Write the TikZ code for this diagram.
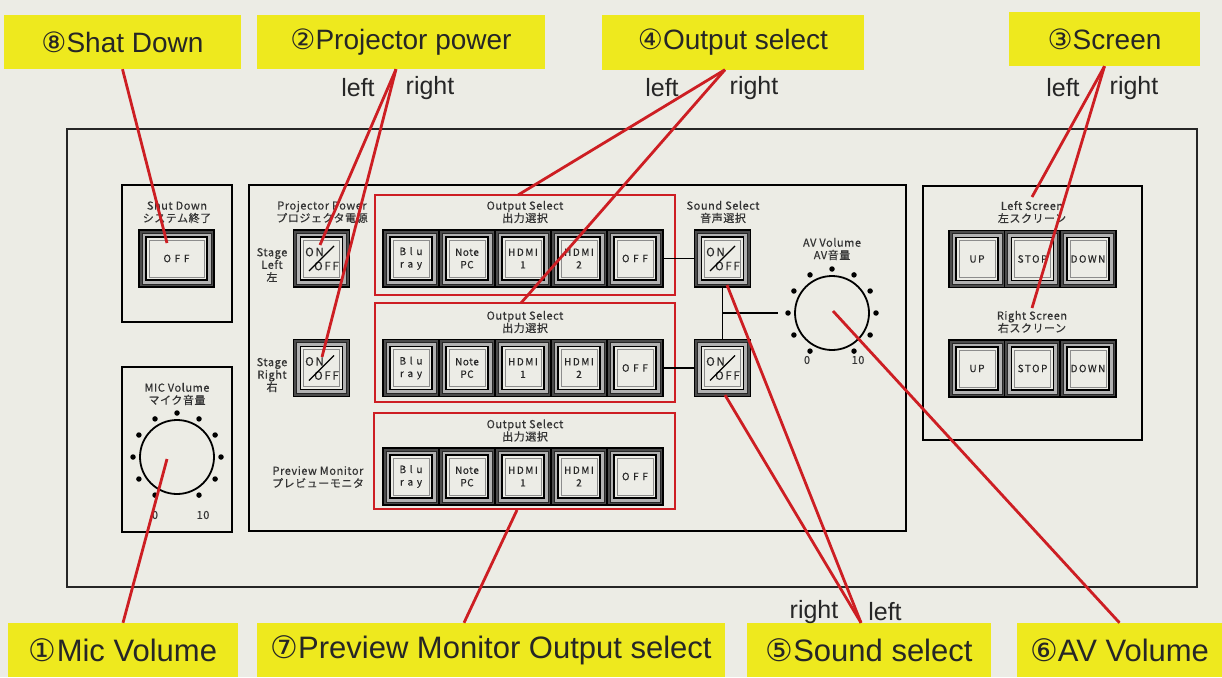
\documentclass[tikz,border=0pt]{standalone}
\usepackage{fontspec}
\setmainfont{Liberation Sans}
\newfontfamily\jpfont[LetterSpace=5,FakeBold=0.4]{Noto Sans CJK JP}
\newfontfamily\btnfont[LetterSpace=15,FakeBold=0.3]{Noto Sans CJK JP}
\newfontfamily\numfont{DejaVu Sans}
\usepackage{tikz}
\usetikzlibrary{positioning,calc}

\definecolor{paperbg}{RGB}{236,236,229}
\definecolor{calloutyellow}{RGB}{238,233,30}
\definecolor{leaderred}{RGB}{205,30,35}
\definecolor{btnfacecol}{RGB}{236,236,230}

\tikzset{
  %% Callout labels
  callout/.style={fill=calloutyellow, inner sep=0pt, minimum height=54pt,
    font=\fontsize{28}{30}\selectfont, text=black!85},
  calloutlow/.style={callout, font=\fontsize{31}{33}\selectfont},
  sidetxt/.style={font=\fontsize{25}{27}\selectfont, text=black!85, inner sep=0pt},
  %% Leader lines and red frames
  leader/.style={draw=leaderred, line width=2.8pt},
  selframe/.style={draw=leaderred, line width=2.8pt, inner sep=0pt},
  %% Panel
  panel/.style={draw=black!85, line width=1.5pt},
  subpanel/.style={draw=black, line width=2.2pt},
  paneltxt/.style={font=\jpfont\fontsize{11}{12.5}\selectfont, align=center,
    text=black!80, inner sep=0pt},
  %% Buttons
  btnrim/.style={draw=black, line width=1.4pt, fill=black!70, minimum height=57pt, inner sep=0pt},
  btnmid/.style={draw=black!85, line width=0.8pt, fill=black!30, minimum height=51pt, inner sep=0pt},
  btnface/.style={draw=black, line width=1.3pt, fill=btnfacecol, minimum height=43pt, inner sep=0pt},
  btnline/.style={draw=black!45, line width=0.5pt, minimum height=37pt, inner sep=0pt},
  btntxt/.style={font=\btnfont\fontsize{10}{12.5}\selectfont, align=center, text=black!85, inner sep=0pt},
  swtxt/.style={btntxt, font=\btnfont\fontsize{11.5}{12}\selectfont},
  wire/.style={draw=black, line width=1.9pt},
  dial/.style={draw=black, line width=1.8pt, circle, minimum size=74pt, inner sep=0pt},
  dialdot/.style={fill=black, circle, minimum size=5.5pt, inner sep=0pt},
}

%% push button: [width]{name}{x}{y}{text}
\newcommand{\pbtn}[5][56]{%
  \node[btnrim, minimum width=#1pt] (#2) at (#3,#4) {};
  \node[btnmid, minimum width=#1pt-6pt] (#2m) at (#3,#4) {};
  \node[btnface, minimum width=#1pt-14pt] (#2f) at (#3,#4) {};
  \node[btnline, minimum width=#1pt-20pt] (#2l) at (#3,#4) {};
  \node[btntxt] (#2t) at (#3,#4) {#5};
}
%% ON/OFF button: {name}{x}{y}
\newcommand{\onoff}[3]{%
  \pbtn{#1}{#2}{#3}{}
  \node[swtxt] (#1on) at ($(#2,#3)+(-7,-6.5)$) {ON};
  \node[swtxt] (#1off) at ($(#2,#3)+(5,7.5)$) {OFF};
  \draw[black, line width=1.1pt] ($(#2,#3)+(-12.5,12.5)$) -- ($(#2,#3)+(12.5,-12.5)$);
}

\begin{document}
\begin{tikzpicture}[x=1pt, y=-1pt]
%% Paper
\fill[paperbg] (0,0) rectangle (1222,677);
\useasboundingbox (0,0) rectangle (1222,677);

%% Panel and sub panels
\draw[panel] (67,129) rectangle (1197,587);
\draw[subpanel] (122,185) rectangle (232,322);
\draw[subpanel] (122,367) rectangle (232,532);
\draw[subpanel] (249,185) rectangle (906,531);
\draw[subpanel] (923,186) rectangle (1142,440);

%% Shut down
\node[paneltxt] (tShut) at (177,212) {Shut Down\\システム終了};
\pbtn[75]{bShut}{176.5}{258.5}{O F F}

%% Mic volume
\node[paneltxt] (tMic) at (177,394) {MIC Volume\\マイク音量};
\node[dial] (kMic) at (177,457) {};
\foreach \a in {-60,-30,...,240}
  \node[dialdot] (dMic\a) at ($(kMic)+(\a:44pt)$) {};
\node[paneltxt] (tMic0) at (155,515) {0};
\node[paneltxt] (tMic10) at (203,515) {10};

%% Projector power
\node[paneltxt] (tProj) at (322,212) {Projector Power\\プロジェクタ電源};
\node[paneltxt] (tStageL) at (272,265) {Stage\\Left\\左};
\node[paneltxt] (tStageR) at (272,375) {Stage\\Right\\右};
\onoff{bProjL}{321.5}{258.5}
\onoff{bProjR}{321.5}{368}

%% Output select rows
\foreach \r/\y/\t in {1/258.5/212, 2/368/322, 3/476.5/430.5} {
  \node[paneltxt] (tSel\r) at (525,\t) {Output Select\\出力選択};
  \pbtn{bBlu\r}{411}{\y}{B l u\\r a y}
  \pbtn{bNote\r}{467}{\y}{{\jpfont Note}\\{\jpfont PC}}
  \pbtn{bHdmiA\r}{523}{\y}{HDMI\\1}
  \pbtn{bHdmiB\r}{579}{\y}{HDMI\\2}
  \pbtn{bOff\r}{635}{\y}{O F F}
}
\node[paneltxt] (tPrev) at (318,477) {Preview Monitor\\プレビューモニタ};
\node[selframe, minimum width=300pt, minimum height=100pt] (fSel1) at (525,245) {};
\node[selframe, minimum width=300pt, minimum height=99pt] (fSel2) at (525,352.5) {};
\node[selframe, minimum width=301pt, minimum height=96pt] (fSel3) at (524.5,461) {};

%% Sound select
\node[paneltxt] (tSnd) at (723,212) {Sound Select\\音声選択};
\onoff{bSnd1}{722.5}{258.5}
\onoff{bSnd2}{722.5}{368}
\draw[wire] (bOff1) -- (bSnd1);
\draw[wire] (bOff2) -- (bSnd2);
\draw[wire] (bSnd1) -- (bSnd2);
\coordinate (jSnd) at (722.5,313);
\coordinate (kStub) at (778,313);
\draw[wire] (jSnd) -- (kStub);

%% AV volume
\node[paneltxt] (tAV) at (832,249) {AV Volume\\AV音量};
\node[dial] (kAV) at (832,313) {};
\foreach \a in {-60,-30,...,240}
  \node[dialdot] (dAV\a) at ($(kAV)+(\a:44pt)$) {};
\node[paneltxt] (tAV0) at (807,360) {0};
\node[paneltxt] (tAV10) at (858,360) {10};

%% Screens
\node[paneltxt] (tScrL) at (1032,212) {Left Screen\\左スクリーン};
\pbtn{bUpL}{977}{259}{UP}
\pbtn{bStopL}{1032.5}{259}{STOP}
\pbtn{bDownL}{1088}{259}{DOWN}
\node[paneltxt] (tScrR) at (1032,322) {Right Screen\\右スクリーン};
\pbtn{bUpR}{977}{368.5}{UP}
\pbtn{bStopR}{1032.5}{368.5}{STOP}
\pbtn{bDownR}{1088}{368.5}{DOWN}

%% Callouts
\node[callout, minimum width=237pt] (cShut) at (122.5,42) {{\numfont ⑧}Shat Down};
\node[callout, minimum width=288pt] (cProj) at (401,42) {{\numfont ②}Projector power};
\node[callout, minimum width=262pt] (cOut) at (733,42.5) {{\numfont ④}Output select};
\node[callout, minimum width=191pt] (cScr) at (1104.5,39) {{\numfont ③}Screen};
\node[calloutlow, minimum width=230pt] (cMic) at (123,650) {{\numfont ①}Mic Volume};
\node[calloutlow, minimum width=468pt] (cPrev) at (491,650) {{\numfont ⑦}Preview Monitor Output select};
\node[calloutlow, minimum width=244pt] (cSnd) at (869,650) {{\numfont ⑤}Sound select};
\node[calloutlow, minimum width=205pt] (cAV) at (1119.5,650) {{\numfont ⑥}AV Volume};

\node[sidetxt] (sProjL) at (358,88) {left};
\node[sidetxt] (sProjR) at (430,88) {right};
\node[sidetxt] (sOutL) at (662,88) {left};
\node[sidetxt] (sOutR) at (754,88) {right};
\node[sidetxt] (sScrL) at (1063,88) {left};
\node[sidetxt] (sScrR) at (1134,88) {right};
\node[sidetxt] (sSndR) at (814,612) {right};
\node[sidetxt] (sSndL) at (885,612) {left};

%% Leader lines
\coordinate (pShut) at (167,243);
\coordinate (pProjL) at (320,245);
\coordinate (pProjR) at (322,357);
\coordinate (pOut1) at (518,195);
\coordinate (pOut2) at (521,303);
\coordinate (pScrL) at (1032,197);
\coordinate (pScrR) at (1032,308);
\coordinate (pMic) at (167,459);
\coordinate (pPrev) at (517,510);
\coordinate (pSnd1) at (727,285);
\coordinate (pSnd2) at (725,395);
\coordinate (pAV) at (833,311);
\draw[leader] (cShut.south) -- (pShut);
\draw[leader] ([xshift=-5pt]cProj.south) -- (pProjL);
\draw[leader] ([xshift=-5pt]cProj.south) -- (pProjR);
\draw[leader] ([xshift=-8pt]cOut.south) -- (pOut1);
\draw[leader] ([xshift=-8pt]cOut.south) -- (pOut2);
\draw[leader] (cScr.south) -- (pScrL);
\draw[leader] (cScr.south) -- (pScrR);
\draw[leader] (cMic.north) -- (pMic);
\draw[leader] ([xshift=-27pt]cPrev.north) -- (pPrev);
\draw[leader] ([xshift=-8pt]cSnd.north) -- (pSnd1);
\draw[leader] ([xshift=-8pt]cSnd.north) -- (pSnd2);
\draw[leader] (cAV.north) -- (pAV);

\end{tikzpicture}
\end{document}
